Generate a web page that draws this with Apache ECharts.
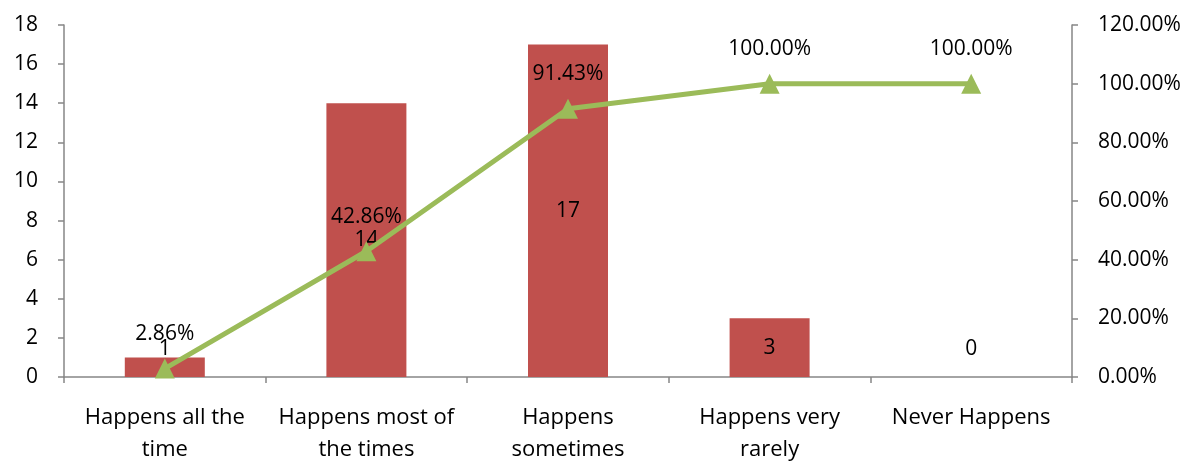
<!DOCTYPE html>
<html>
<head>
<meta charset="utf-8">
<script src="https://cdn.jsdelivr.net/npm/echarts@6/dist/echarts.min.js"></script>
<style>
  html, body { margin: 0; padding: 0; background: #fff; }
  #chart { width: 1196px; height: 463px; }
</style>
</head>
<body>
<div id="chart"></div>
<script>
// Response categories and counts, with the cumulative share of responses
const categories = ['Happens all the\ntime', 'Happens most of\nthe times', 'Happens\nsometimes', 'Happens very\nrarely', 'Never Happens'];
const counts = [1, 14, 17, 3, 0];
const cumulative = [0.0286, 0.4286, 0.9143, 1.0, 1.0];

const FONT = 'Open Sans';
const FS = 21;
const AXIS = '#868686';

const chart = echarts.init(document.getElementById('chart'));

// Tall bars carry their count inside; short bars carry it just above
const barData = counts.map(v => {
  if (v >= 3) {
    return { value: v, label: { position: 'inside' } };
  }
  return { value: v, label: { position: 'top', distance: v === 0 ? 17 : -2 } };
});

chart.setOption({
  animation: false,
  textStyle: { fontFamily: FONT },
  grid: { left: 64, right: 124, top: 25, bottom: 86, outerBoundsMode: 'none', containLabel: false },
  xAxis: {
    type: 'category',
    data: categories,
    axisLine: { lineStyle: { color: AXIS, width: 1.5 } },
    axisTick: { show: true, alignWithLabel: false, length: 6, lineStyle: { color: AXIS, width: 1.5 } },
    axisLabel: { color: '#000', fontSize: 22, margin: 25, lineHeight: 32, interval: 0 }
  },
  yAxis: [
    {
      type: 'value', min: 0, max: 18, interval: 2,
      splitLine: { show: false },
      axisLine: { show: true, lineStyle: { color: AXIS, width: 1.5 } },
      axisTick: { show: true, length: 6, lineStyle: { color: AXIS, width: 1.5 } },
      axisLabel: { color: '#000', fontSize: FS, margin: 26 }
    },
    {
      type: 'value', min: 0, max: 1.2, interval: 0.2,
      splitLine: { show: false },
      axisLine: { show: true, lineStyle: { color: AXIS, width: 1.5 } },
      axisTick: { show: true, length: 6, lineStyle: { color: AXIS, width: 1.5 } },
      axisLabel: {
        color: '#000', fontSize: FS, margin: 26,
        formatter: v => (v * 100).toFixed(2) + '%'
      }
    }
  ],
  series: [
    {
      type: 'bar',
      data: barData,
      barWidth: 80,
      itemStyle: { color: '#C0504D' },
      label: { show: true, color: '#000', fontSize: FS, fontFamily: FONT }
    },
    {
      type: 'line',
      yAxisIndex: 1,
      data: cumulative,
      symbol: 'triangle',
      symbolSize: [20, 20],
      lineStyle: { color: '#9BBB59', width: 5 },
      itemStyle: { color: '#9BBB59' },
      label: {
        show: true, position: 'top', distance: 14, color: '#000', fontSize: FS, fontFamily: FONT,
        formatter: p => (p.value * 100).toFixed(2) + '%'
      }
    }
  ]
});
</script>
</body>
</html>
